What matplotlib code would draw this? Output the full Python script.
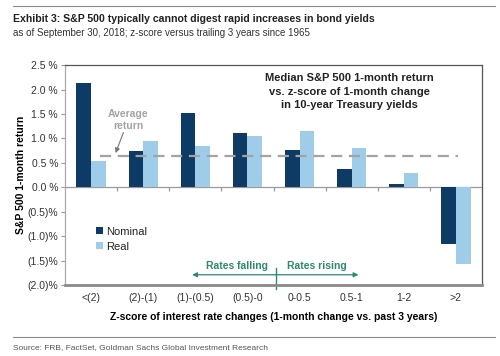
import matplotlib

matplotlib.use("Agg")

import matplotlib.pyplot as plt
import numpy as np

categories = ["<(2)", "(2)-(1)", "(1)-(0.5)", "(0.5)-0", "0-0.5", "0.5-1", "1-2", ">2"]
nominal = [2.13, 0.74, 1.53, 1.12, 0.76, 0.38, 0.06, -1.16]
real = [0.53, 0.95, 0.85, 1.04, 1.15, 0.81, 0.29, -1.57]
average_return = 0.64
y_ticks = [2.5, 2.0, 1.5, 1.0, 0.5, 0.0, -0.5, -1.0, -1.5, -2.0]
y_tick_labels = ["2.5 %", "2.0 %", "1.5 %", "1.0 %", "0.5 %", "0.0 %",
                 "(0.5)%", "(1.0)%", "(1.5)%", "(2.0)%"]

NAVY = "#0d3b66"
LIGHT = "#9fcce9"
GREEN = "#2b8a6c"
GRAY = "#a3a3a3"

plt.rcParams["font.family"] = ["Liberation Sans", "DejaVu Sans"]
narrow = ["Liberation Sans Narrow", "Liberation Sans", "DejaVu Sans"]


def main() -> None:
    fig = plt.figure(figsize=(5.0, 3.56), dpi=100)
    ax = fig.add_axes([0.13, 0.1994, 0.834, 0.6176])

    x = np.arange(len(categories))
    w = 0.28
    ax.bar(x - w / 2, nominal, w, color=NAVY, label="Nominal", zorder=2)
    ax.bar(x + w / 2, real, w, color=LIGHT, label="Real", zorder=2)

    ax.set_xlim(-0.5, len(categories) - 0.5)
    ax.set_ylim(-2.0, 2.5)
    ax.set_yticks(y_ticks)
    ax.set_yticklabels(y_tick_labels)
    ax.set_xticks(x)
    ax.set_xticklabels(categories)
    ax.tick_params(axis="x", length=0, pad=6, labelsize=7.5, colors="#333333")
    ax.tick_params(axis="y", length=3, width=0.8, color="#999999", pad=2,
                   labelsize=7.5, labelcolor="#333333")

    # zero line with category separators
    ax.axhline(0, color="#9a9a9a", lw=0.9, zorder=1)
    ax.vlines(x[:-1] + 0.5, -0.07, 0, color="#9a9a9a", lw=0.9)

    for side in ("top", "right"):
        ax.spines[side].set_color("#555555")
        ax.spines[side].set_linewidth(0.9)
    ax.spines["left"].set_color("#aaaaaa")
    ax.spines["left"].set_linewidth(0.9)
    ax.spines["bottom"].set_color("#8a8a8a")
    ax.spines["bottom"].set_linewidth(2.0)

    # average line
    ax.plot([0.17, 7.04], [average_return, average_return], ls=(0, (5, 3)),
            color=GRAY, lw=1.6, zorder=3)
    ax.text(0.71, 1.38, "Average\nreturn", ha="center", va="center", color=GRAY,
            fontsize=7.5, fontweight="bold", linespacing=1.25)
    ax.annotate("", xy=(0.47, average_return + 0.06), xytext=(0.62, 1.12),
                arrowprops=dict(arrowstyle="-|>", color="#777777", lw=0.8,
                                mutation_scale=7, shrinkA=0, shrinkB=0))

    ax.text(4.95, 1.96, "Median S&P 500 1-month return\nvs. z-score of 1-month change\nin 10-year Treasury yields",
            ha="center", va="center", fontsize=8, fontweight="bold",
            color="#222222", linespacing=1.4)

    # rates falling / rising
    ax.annotate("", xy=(1.94, -1.79), xytext=(3.54, -1.79),
                arrowprops=dict(arrowstyle="-|>", color=GREEN, lw=0.9,
                                mutation_scale=7, shrinkA=0, shrinkB=0))
    ax.annotate("", xy=(5.13, -1.79), xytext=(3.54, -1.79),
                arrowprops=dict(arrowstyle="-|>", color=GREEN, lw=0.9,
                                mutation_scale=7, shrinkA=0, shrinkB=0))
    ax.plot([3.54, 3.54], [-1.66, -2.08], color=GREEN, lw=1.0, clip_on=False)
    ax.text(2.8, -1.61, "Rates falling", ha="center", va="center",
            color=GREEN, fontsize=7.5, fontweight="bold")
    ax.text(4.33, -1.61, "Rates rising", ha="center", va="center",
            color=GREEN, fontsize=7.5, fontweight="bold")

    ax.legend(loc="upper left", bbox_to_anchor=(0.05, 0.31), frameon=False,
              handlelength=0.6, handleheight=0.6, handletextpad=0.3,
              fontsize=8, labelspacing=0.45, labelcolor="#222222")

    ax.set_ylabel("S&P 500 1-month return", fontsize=7.5, fontweight="bold",
                  labelpad=1)
    ax.set_xlabel("Z-score of interest rate changes (1-month change vs. past 3 years)",
                  fontsize=7.5, fontweight="bold", labelpad=6)

    # header and footer
    fig.add_artist(plt.Line2D([0.026, 0.99], [0.983, 0.983], color="#888888", lw=0.8))
    fig.text(0.026, 0.946, "Exhibit 3: S&P 500 typically cannot digest rapid increases in bond yields",
             family=narrow, fontsize=7.6, fontweight="bold", color="#222222",
             ha="left", va="center")
    fig.text(0.026, 0.906, "as of September 30, 2018; z-score versus trailing 3 years since 1965",
             family=narrow, fontsize=7, color="#333333", ha="left", va="center")
    fig.add_artist(plt.Line2D([0.026, 0.99], [0.053, 0.053], color="#888888", lw=0.8))
    fig.text(0.026, 0.025, "Source: FRB, FactSet, Goldman Sachs Global Investment Research",
             family=narrow, fontsize=6, color="#555555", ha="left", va="center")

    fig.savefig("out.png", dpi=100)


if __name__ == "__main__":
    main()
